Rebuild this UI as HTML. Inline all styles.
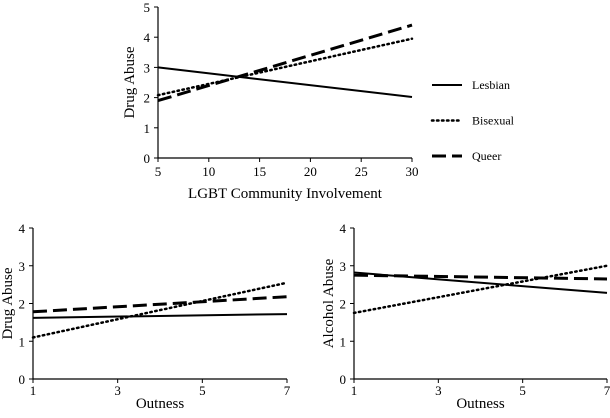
<!DOCTYPE html>
<html><head><meta charset="utf-8"><style>
body{margin:0;background:#fff;}
svg text{font-family:"Liberation Serif",serif;fill:#000;}
</style></head><body>
<svg id="c" width="610" height="413"></svg>
<script>
const seriesNames=["Lesbian","Bisexual","Queer"];
const topX=[5,30];
const topLesbian=[3.0,2.02];
const topBisexual=[2.08,3.95];
const topQueer=[1.9,4.4];
const topXTicks=[5,10,15,20,25,30];
const topYTicks=[0,1,2,3,4,5];
const botX=[1,7];
const leftLesbian=[1.62,1.72];
const leftBisexual=[1.1,2.55];
const leftQueer=[1.78,2.18];
const rightLesbian=[2.82,2.28];
const rightBisexual=[1.75,3.0];
const rightQueer=[2.75,2.65];
const botXTicks=[1,3,5,7];
const botYTicks=[0,1,2,3,4];

const NS="http://www.w3.org/2000/svg";
const svg=document.getElementById('c');
function el(t,a,p){const e=document.createElementNS(NS,t);for(const k in a)e.setAttribute(k,a[k]);(p||svg).appendChild(e);return e;}
const styles=[{w:2,d:""},{w:2.5,d:"1.5,3.5"},{w:3,d:"14,6"}];

function panel(name,cfg,series){
  const g=el('g',{});
  
  
  const sx=v=>cfg.x0+(v-cfg.xmin)/(cfg.xmax-cfg.xmin)*(cfg.x1-cfg.x0);
  const sy=v=>cfg.y0-(v-cfg.ymin)/(cfg.ymax-cfg.ymin)*(cfg.y0-cfg.y1);
  const ax=el('path',{d:`M${cfg.x0},${cfg.y1}V${cfg.y0}H${cfg.x1}`,stroke:'#000','stroke-width':1.2,fill:'none'},g);
  
  
  cfg.xt.forEach(v=>{
    el('line',{x1:sx(v),x2:sx(v),y1:cfg.y0,y2:cfg.y0+4,stroke:'#000'},g);
    const t=el('text',{x:sx(v),y:cfg.y0+cfg.tkOff,'text-anchor':'middle','font-size':13},g);t.textContent=v;
    
    
  });
  cfg.yt.forEach(v=>{
    el('line',{x1:cfg.x0-4,x2:cfg.x0,y1:sy(v),y2:sy(v),stroke:'#000'},g);
    const t=el('text',{x:cfg.x0-8,y:sy(v)+5,'text-anchor':'end','font-size':13},g);t.textContent=v;
    
    
  });
  const xt=el('text',{x:(cfg.x0+cfg.x1)/2,y:cfg.y0+cfg.xtOff,'text-anchor':'middle','font-size':15},g);xt.textContent=cfg.xl;
  
  
  const yc=(cfg.y0+cfg.y1)/2;
  const yt=el('text',{x:cfg.ytx,y:yc,'text-anchor':'middle','font-size':15,transform:`rotate(-90 ${cfg.ytx} ${yc})`},g);yt.textContent=cfg.yl;
  
  
  series.forEach((s,i)=>{
    const l=el('line',{x1:sx(cfg.xd[0]),y1:sy(s[0]),x2:sx(cfg.xd[1]),y2:sy(s[1]),stroke:'#000','stroke-width':styles[i].w,'stroke-dasharray':styles[i].d,'stroke-linecap':i==1?'round':'butt'},g);
    
    
  });
}
panel('top-panel',{x0:158,x1:412,y0:158,y1:7,xmin:5,xmax:30,ymin:0,ymax:5,xt:topXTicks,yt:topYTicks,xd:topX,xl:'LGBT Community Involvement',yl:'Drug Abuse',ytx:134,xtOff:40,tkOff:18},[topLesbian,topBisexual,topQueer]);
panel('bottom-left-panel',{x0:33,x1:287,y0:379,y1:228,xmin:1,xmax:7,ymin:0,ymax:4,xt:botXTicks,yt:botYTicks,xd:botX,xl:'Outness',yl:'Drug Abuse',ytx:12,xtOff:29,tkOff:16},[leftLesbian,leftBisexual,leftQueer]);
panel('bottom-right-panel',{x0:354,x1:607,y0:379,y1:228,xmin:1,xmax:7,ymin:0,ymax:4,xt:botXTicks,yt:botYTicks,xd:botX,xl:'Outness',yl:'Alcohol Abuse',ytx:333,xtOff:29,tkOff:16},[rightLesbian,rightBisexual,rightQueer]);
const lg=el('g',{});


seriesNames.forEach((n,i)=>{
  const y=85+i*35.5;
  el('line',{x1:432,x2:462,y1:y,y2:y,stroke:'#000','stroke-width':styles[i].w,'stroke-dasharray':styles[i].d,'stroke-linecap':i==1?'round':'butt'},lg);
  const t=el('text',{x:472,y:y+4,'font-size':12},lg);t.textContent=n;
  
  
});
</script>
</body></html>
